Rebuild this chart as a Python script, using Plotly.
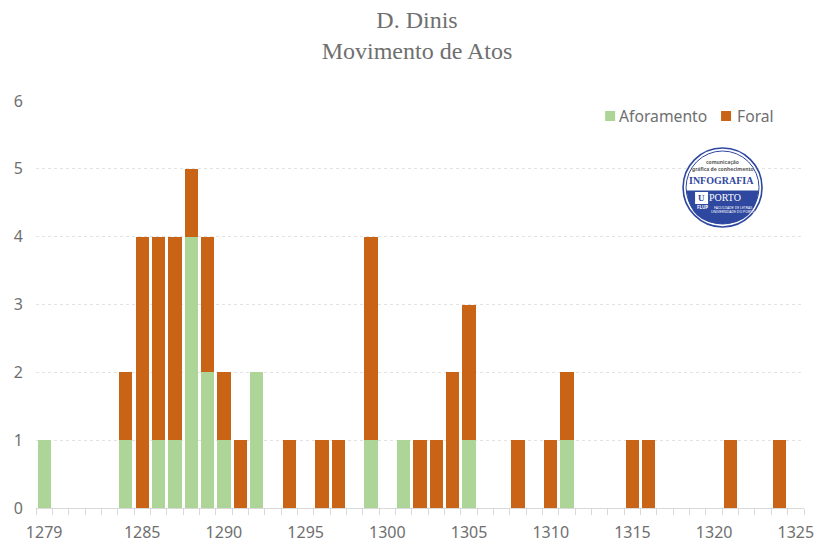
import plotly.graph_objects as go

aforamento_years = [1279, 1284, 1286, 1287, 1288, 1289, 1290, 1292, 1299, 1301, 1305, 1311]
aforamento_vals = [1, 1, 1, 1, 4, 2, 1, 2, 1, 1, 1, 1]
foral_years = [1284, 1285, 1286, 1287, 1288, 1289, 1290, 1291, 1294, 1296, 1297, 1299,
               1302, 1303, 1304, 1305, 1308, 1310, 1311, 1315, 1316, 1321, 1324]
foral_vals = [1, 4, 3, 3, 1, 2, 1, 1, 1, 1, 1, 3, 1, 1, 2, 2, 1, 1, 1, 1, 1, 1, 1]
x_tick_vals = [1279, 1285, 1290, 1295, 1300, 1305, 1310, 1315, 1320, 1325]
y_tick_vals = [0, 1, 2, 3, 4, 5, 6]

GREEN = "#AED598"
ORANGE = "#C96316"
TEXT = "#6f6f6f"
BLUE = "#2E479F"
SANS = "Noto Sans"

W, H = 818, 540
L, R, T, B = 35.5, 804, 101, 508

fig = go.Figure()
fig.add_bar(name="Aforamento", x=aforamento_years, y=aforamento_vals, marker_color=GREEN, marker_line_width=0)
fig.add_bar(name="Foral", x=foral_years, y=foral_vals, marker_color=ORANGE, marker_line_width=0)


def px(v):
    return (v - L) / (R - L)


def py(v):
    return (B - v) / (B - T)


# logo, placed with page-pixel positions converted to plot-area fractions
cx, cy, r = 722.5, 187.5, 39.5
shapes = [
    dict(type="circle", xref="paper", yref="paper", x0=px(cx - r), x1=px(cx + r), y0=py(cy + r), y1=py(cy - r),
         fillcolor="white", line=dict(color=BLUE, width=1.6)),
    dict(type="circle", xref="paper", yref="paper", x0=px(cx - r + 3), x1=px(cx + r - 3), y0=py(cy + r - 3), y1=py(cy - r + 3),
         fillcolor="white", line=dict(color=BLUE, width=1)),
    dict(type="path", xref="paper", yref="paper",
         path="M {:.4f} {:.4f} L {:.4f} {:.4f} Q {:.4f} {:.4f} {:.4f} {:.4f} Q {:.4f} {:.4f} {:.4f} {:.4f} Z".format(
             px(cx - 36), py(cy + 3), px(cx + 36), py(cy + 3),
             px(cx + 33), py(cy + 36), px(cx), py(cy + 36.5),
             px(cx - 33), py(cy + 36), px(cx - 36), py(cy + 3)),
         fillcolor=BLUE, line=dict(width=0)),
    dict(type="rect", xref="paper", yref="paper", x0=px(695), x1=px(708), y0=py(204), y1=py(192),
         fillcolor="white", line=dict(width=0)),
    # legend swatches
    dict(type="rect", xref="paper", yref="paper", x0=px(605), x1=px(615), y0=py(121), y1=py(111),
         fillcolor=GREEN, line=dict(width=0)),
    dict(type="rect", xref="paper", yref="paper", x0=px(721), x1=px(731), y0=py(121), y1=py(111),
         fillcolor=ORANGE, line=dict(width=0)),
]


def logo_text(x, y, s, size, color, family=SANS, bold=False):
    return dict(xref="paper", yref="paper", x=px(x), y=py(y), text=f"<b>{s}</b>" if bold else s, showarrow=False,
                xanchor="center", yanchor="middle", font=dict(size=size, color=color, family=family))


def legend_text(x, s):
    return dict(xref="paper", yref="paper", x=px(x), y=py(116), text=s, showarrow=False, xanchor="left",
                yanchor="middle", xshift=0, borderpad=0, font=dict(size=15.7, color=TEXT, family=SANS))


annotations = [
    legend_text(618, "Aforamento"),
    legend_text(736, "Foral"),
    logo_text(722.5, 161.5, "comunicação", 5, "#5a5a5a", bold=True),
    logo_text(722.5, 168.5, "gráfica de conhecimento", 5, "#5a5a5a", bold=True),
    logo_text(721, 180, "INFOGRAFIA", 10, BLUE, "Liberation Serif", True),
    logo_text(701.5, 198, "U", 9, BLUE, "Liberation Serif", True),
    logo_text(725, 197, "PORTO", 10, "white", "Liberation Serif"),
    logo_text(702, 207, "FLUP", 4.5, "white", bold=True),
    logo_text(733, 207, "FACULDADE DE LETRAS", 3.5, "white"),
    logo_text(733, 211, "UNIVERSIDADE DO PORTO", 3.5, "white"),
]

fig.update_layout(
    width=W, height=H, autosize=False,
    barmode="stack", bargap=0.19, showlegend=False,
    paper_bgcolor="white", plot_bgcolor="white",
    margin=dict(l=L, r=W - R, t=T, b=H - B, pad=0),
    title=dict(text="D. Dinis<br>Movimento de Atos", x=417 / W, xanchor="center", y=1 - 28 / H, yanchor="top",
               font=dict(family="Liberation Serif", size=24, color=TEXT)),
    xaxis=dict(range=[1278.5, 1325.5], tickmode="array", tickvals=x_tick_vals, ticks="", ticklen=0,
               showgrid=False, zeroline=False, showline=True, linecolor="#d9d9d9", linewidth=1,
               tickfont=dict(family=SANS, size=16, color=TEXT), automargin=False, ticklabelstandoff=10,
               minor=dict(tick0=1278.5, dtick=1, ticks="outside", ticklen=6, tickcolor="#d9d9d9", tickwidth=1, showgrid=False)),
    yaxis=dict(range=[0, 6], tickmode="array", tickvals=y_tick_vals, showgrid=True, gridcolor="#e3e3e3",
               griddash="dot", gridwidth=1, zeroline=False, showline=False, ticks="", automargin=False,
               ticklabelstandoff=12, tickfont=dict(family=SANS, size=16, color=TEXT)),
    shapes=shapes, annotations=annotations,
)

fig.write_html("out.html", config=dict(displayModeBar=False),
               post_script="document.body.style.margin='0';document.body.style.overflow='hidden';")
